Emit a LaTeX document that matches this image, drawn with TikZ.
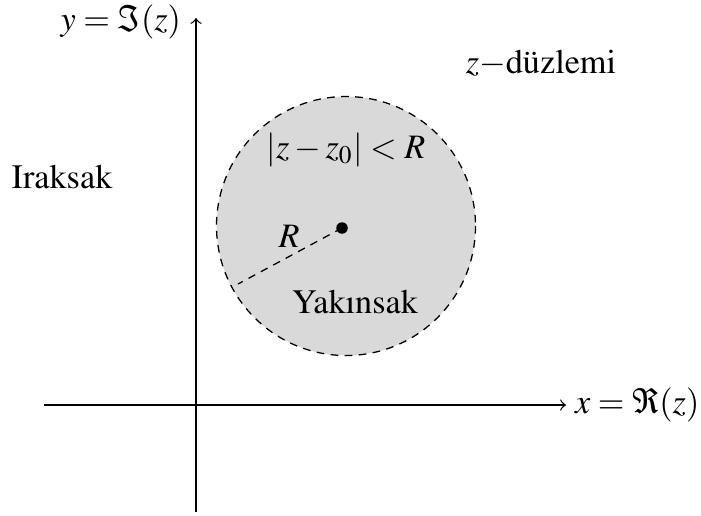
\documentclass[tikz,border=0pt]{standalone}
\usepackage[T1]{fontenc}
\usepackage{mathptmx}
\usepackage{amsmath}
\usepackage{tikz}
\usetikzlibrary{positioning}

\tikzset{
  eksen/.style={->, line width=0.4pt},
  kesik/.style={dash pattern=on 2.4pt off 2pt},
  bolge/.style={draw, kesik, fill=gray!30},
  yazi/.style={inner sep=0.75pt, font=\fontsize{10.7}{13}\selectfont},
}

\begin{document}
\begin{tikzpicture}[x=0.3125pt,y=0.3125pt,yscale=-1,xscale=1]
  \useasboundingbox (0,0) rectangle (701,515);
  % axis ends
  \coordinate (xbas) at (44,405);
  \coordinate (xuc) at (566,405);
  \coordinate (ybas) at (196,512);
  \coordinate (yuc) at (196,18);
  % disc of convergence
  \draw [bolge] (346,226) circle (129.5);
  \node [circle, fill, inner sep=0pt, minimum size=3.6pt] (merkez) at (342,228) {};
  \coordinate (kenar) at (238,284);
  %Straight Lines
  \draw [eksen] (xbas) -- (xuc);
  \draw [eksen] (ybas) -- (yuc);
  \draw [kesik] (merkez.center) -- (kenar);

  % Text Node
  \node [yazi, anchor=west] (xlabel) at (572,405) {$x=\Re(z)$};
  % Text Node
  \node [yazi, anchor=east] (ylabel) at (184,22) {$y=\Im(z)$};
  % Text Node
  \node [yazi] (duzlem) at (541,63) {$z-$d\"uzlemi};
  % Text Node
  \node [yazi] (iraksak) at (62,177) {Iraksak};
  % Text Node
  \node [yazi] (esitsiz) at (346,150) {$|z-z_0|<R$};
  % Text Node
  \node [yazi] (yaricap) at (289,236) {$R$};
  % Text Node
  \node [yazi] (yakinsak) at (355,302) {Yak\i nsak};
\end{tikzpicture}
\end{document}
